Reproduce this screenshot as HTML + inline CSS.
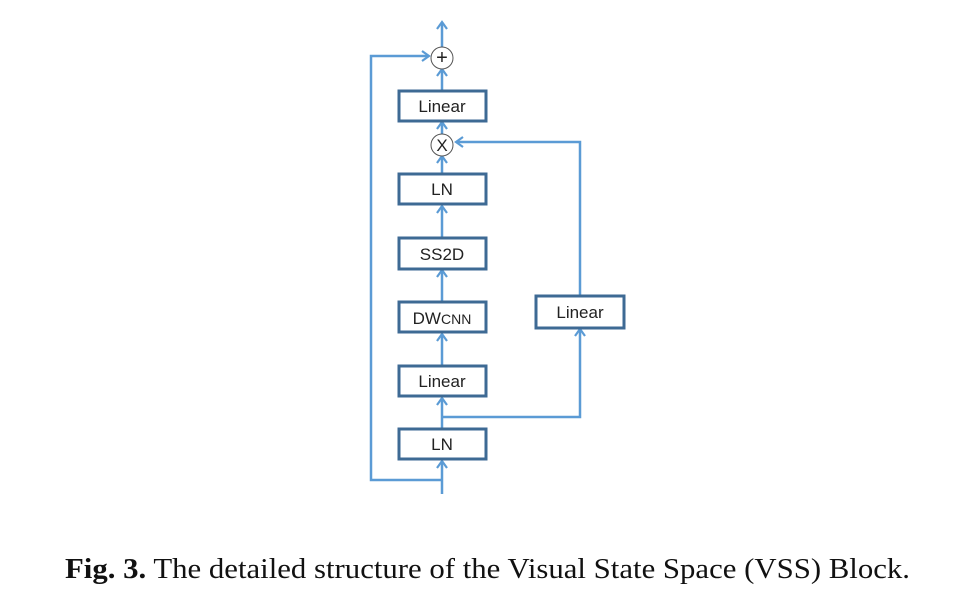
<!DOCTYPE html>
<html><head><style>
body{margin:0;background:#fff;width:976px;height:605px;overflow:hidden}
</style></head><body>
<svg width="976" height="605" xmlns="http://www.w3.org/2000/svg" style="position:absolute;left:0;top:0">
<defs><marker id="a" markerWidth="12" markerHeight="12" refX="9" refY="6" orient="auto" markerUnits="userSpaceOnUse">
<path d="M2,1 L9,6 L2,11" fill="none" stroke="#5b9bd5" stroke-width="2.2"/></marker></defs>
<g stroke="#5b9bd5" stroke-width="2.5" fill="none">
<line x1="442" y1="494" x2="442" y2="461" marker-end="url(#a)"/>
<polyline points="442,480 371,480 371,56 429,56" marker-end="url(#a)"/>
<line x1="442" y1="428" x2="442" y2="398" marker-end="url(#a)"/>
<polyline points="442,417 580,417 580,329" marker-end="url(#a)"/>
<line x1="442" y1="365" x2="442" y2="334" marker-end="url(#a)"/>
<line x1="442" y1="301" x2="442" y2="270" marker-end="url(#a)"/>
<line x1="442" y1="238" x2="442" y2="206" marker-end="url(#a)"/>
<line x1="442" y1="173" x2="442" y2="156" marker-end="url(#a)"/>
<polyline points="580,295 580,142 456,142" marker-end="url(#a)"/>
<line x1="442" y1="134" x2="442" y2="122" marker-end="url(#a)"/>
<line x1="442" y1="90" x2="442" y2="69" marker-end="url(#a)"/>
<line x1="442" y1="47" x2="442" y2="22" marker-end="url(#a)"/>
</g>
<g stroke="#3e6a94" stroke-width="3" fill="#fff">
<rect x="399" y="91" width="87" height="30"/>
<rect x="399" y="174" width="87" height="30"/>
<rect x="399" y="238" width="87" height="31"/>
<rect x="399" y="302" width="87" height="30"/>
<rect x="399" y="366" width="87" height="30"/>
<rect x="399" y="429" width="87" height="30"/>
<rect x="536" y="296" width="88" height="32"/>
</g>
<g stroke="#555" stroke-width="1" fill="#fff">
<circle cx="442" cy="58" r="11"/>
<circle cx="442" cy="145" r="11"/>
</g>
<g font-family="Liberation Sans, sans-serif" font-size="17" fill="#222" text-anchor="middle">
<text x="442" y="64" font-size="20">+</text>
<text x="442" y="151" font-size="17">X</text>
<text x="442" y="112">Linear</text>
<text x="442" y="195">LN</text>
<text x="442" y="260">SS2D</text>
<text x="442" y="324">DW<tspan font-size="14">CNN</tspan></text>
<text x="442" y="387">Linear</text>
<text x="442" y="450">LN</text>
<text x="580" y="318">Linear</text>
</g>
<text x="65" y="578" textLength="845" lengthAdjust="spacingAndGlyphs" font-family="Liberation Serif, serif" font-size="28" fill="#111"><tspan font-weight="bold">Fig. 3.</tspan> The detailed structure of the Visual State Space (VSS) Block.</text>
</svg>
</body></html>
